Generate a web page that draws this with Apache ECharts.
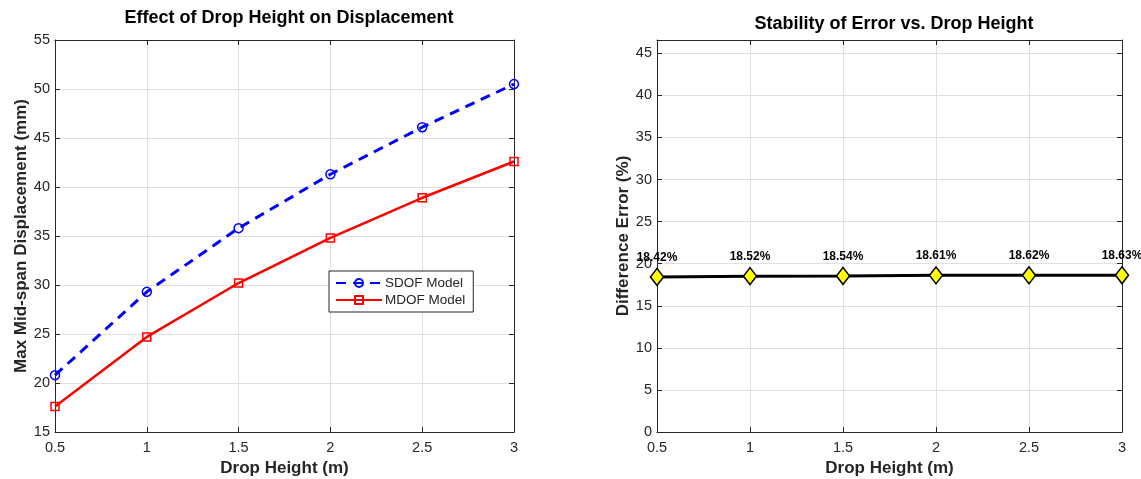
<!DOCTYPE html>
<html>
<head>
<meta charset="utf-8">
<script src="https://cdn.jsdelivr.net/npm/echarts@6/dist/echarts.min.js"></script>
<style>
  html, body { margin: 0; padding: 0; background: #fff; }
  #chart { width: 1141px; height: 479px; }
</style>
</head>
<body>
<div id="chart"></div>
<script>
const dropHeights = [0.5, 1, 1.5, 2, 2.5, 3]
const sdofDisp = [20.8, 29.3, 35.8, 41.3, 46.1, 50.5]
const mdofDisp = [17.6, 24.7, 30.2, 34.8, 38.9, 42.6]
const diffError = [18.42, 18.52, 18.54, 18.61, 18.62, 18.63]

const font = 'Liberation Sans, Arial, Helvetica, sans-serif'
const axisColor = '#262626'
const gridColor = '#e0e0e0'

const pairs = (ys) => dropHeights.map((x, i) => [x, ys[i]])

function xAxisFor(gridIndex, bottom) {
  return {
    type: 'value',
    gridIndex,
    position: bottom ? 'bottom' : 'top',
    min: 0.5,
    max: 3,
    interval: 0.5,
    name: bottom ? 'Drop Height (m)' : '',
    nameLocation: 'middle',
    nameGap: 27,
    nameTextStyle: { fontFamily: font, fontSize: 17, fontWeight: 'bold', color: axisColor },
    axisLine: { show: true, onZero: false, lineStyle: { color: axisColor, width: 1 } },
    axisTick: { show: true, inside: true, length: 5, lineStyle: { color: axisColor } },
    axisLabel: { show: bottom, fontFamily: font, fontSize: 14.5, color: axisColor, margin: 8 },
    splitLine: { show: bottom, lineStyle: { color: gridColor } }
  }
}

function yAxisFor(gridIndex, left, min, max, name, gap) {
  return {
    type: 'value',
    gridIndex,
    position: left ? 'left' : 'right',
    min,
    max,
    interval: 5,
    name: left ? name : '',
    nameLocation: 'middle',
    nameGap: gap,
    nameTextStyle: { fontFamily: font, fontSize: 17, fontWeight: 'bold', color: axisColor },
    axisLine: { show: true, onZero: false, lineStyle: { color: axisColor, width: 1 } },
    axisTick: { show: true, inside: true, length: 5, lineStyle: { color: axisColor } },
    axisLabel: { show: left, fontFamily: font, fontSize: 14.5, color: axisColor, margin: 5, showMaxLabel: max % 5 === 0 },
    splitLine: { show: left, lineStyle: { color: gridColor } }
  }
}

const chart = echarts.init(document.getElementById('chart'))
chart.setOption({
  animation: false,
  backgroundColor: '#fff',
  title: [{
    text: 'Effect of Drop Height on Displacement',
    left: 284, top: 4, textAlign: 'center',
    textStyle: { fontFamily: font, fontSize: 18, fontWeight: 'bold', color: '#000' }
  }, {
    text: 'Stability of Error vs. Drop Height',
    left: 889, top: 10, textAlign: 'center',
    textStyle: { fontFamily: font, fontSize: 18, fontWeight: 'bold', color: '#000' }
  }],
  legend: {
    data: ['SDOF Model', 'MDOF Model'],
    orient: 'vertical',
    left: 329, top: 271,
    padding: [5, 8, 5, 6],
    itemGap: 3,
    itemWidth: 46,
    itemHeight: 10,
    backgroundColor: '#fff',
    borderColor: '#262626',
    borderWidth: 1,
    borderRadius: 0,
    textStyle: { fontFamily: font, fontSize: 13.5, color: axisColor, padding: [0, 0, 0, -2] }
  },
  grid: [
    { left: 55, top: 40, width: 459, height: 392, show: false, outerBoundsMode: 'none', containLabel: false },
    { left: 657, top: 40, width: 465, height: 392, show: false, outerBoundsMode: 'none', containLabel: false }
  ],
  xAxis: [xAxisFor(0, true), xAxisFor(0, false), xAxisFor(1, true), xAxisFor(1, false)],
  yAxis: [
    yAxisFor(0, true, 15, 55, 'Max Mid-span Displacement (mm)', 25),
    yAxisFor(0, false, 15, 55, '', 25),
    yAxisFor(1, true, 0, 46.575, 'Difference Error (%)', 25),
    yAxisFor(1, false, 0, 46.575, '', 25)
  ],
  series: [{
    name: 'SDOF Model',
    type: 'line',
    xAxisIndex: 0, yAxisIndex: 0,
    data: pairs(sdofDisp),
    symbol: 'circle',
    symbolSize: 9,
    color: '#0000ff',
    itemStyle: { color: 'rgba(0,0,0,0)', borderColor: '#0000ff', borderWidth: 1.5 },
    lineStyle: { color: '#0000ff', width: 3, type: [10, 7] },
    z: 3
  }, {
    name: 'MDOF Model',
    type: 'line',
    xAxisIndex: 0, yAxisIndex: 0,
    data: pairs(mdofDisp),
    symbol: 'rect',
    symbolSize: 8,
    color: '#ff0000',
    itemStyle: { color: 'rgba(0,0,0,0)', borderColor: '#ff0000', borderWidth: 1.5 },
    lineStyle: { color: '#ff0000', width: 2.5 },
    z: 3
  }, {
    name: 'Difference Error',
    type: 'line',
    xAxisIndex: 2, yAxisIndex: 2,
    data: pairs(diffError),
    symbol: 'diamond',
    symbolSize: [13, 17],
    itemStyle: { color: '#ffff00', borderColor: '#000', borderWidth: 1.5 },
    lineStyle: { color: '#000', width: 3 },
    label: {
      show: true,
      position: 'top',
      distance: 4,
      formatter: (p) => p.value[1].toFixed(2) + '%',
      fontFamily: font,
      fontSize: 12,
      fontWeight: 'bold',
      color: '#000'
    },
    z: 3
  }]
})
</script>
</body>
</html>
